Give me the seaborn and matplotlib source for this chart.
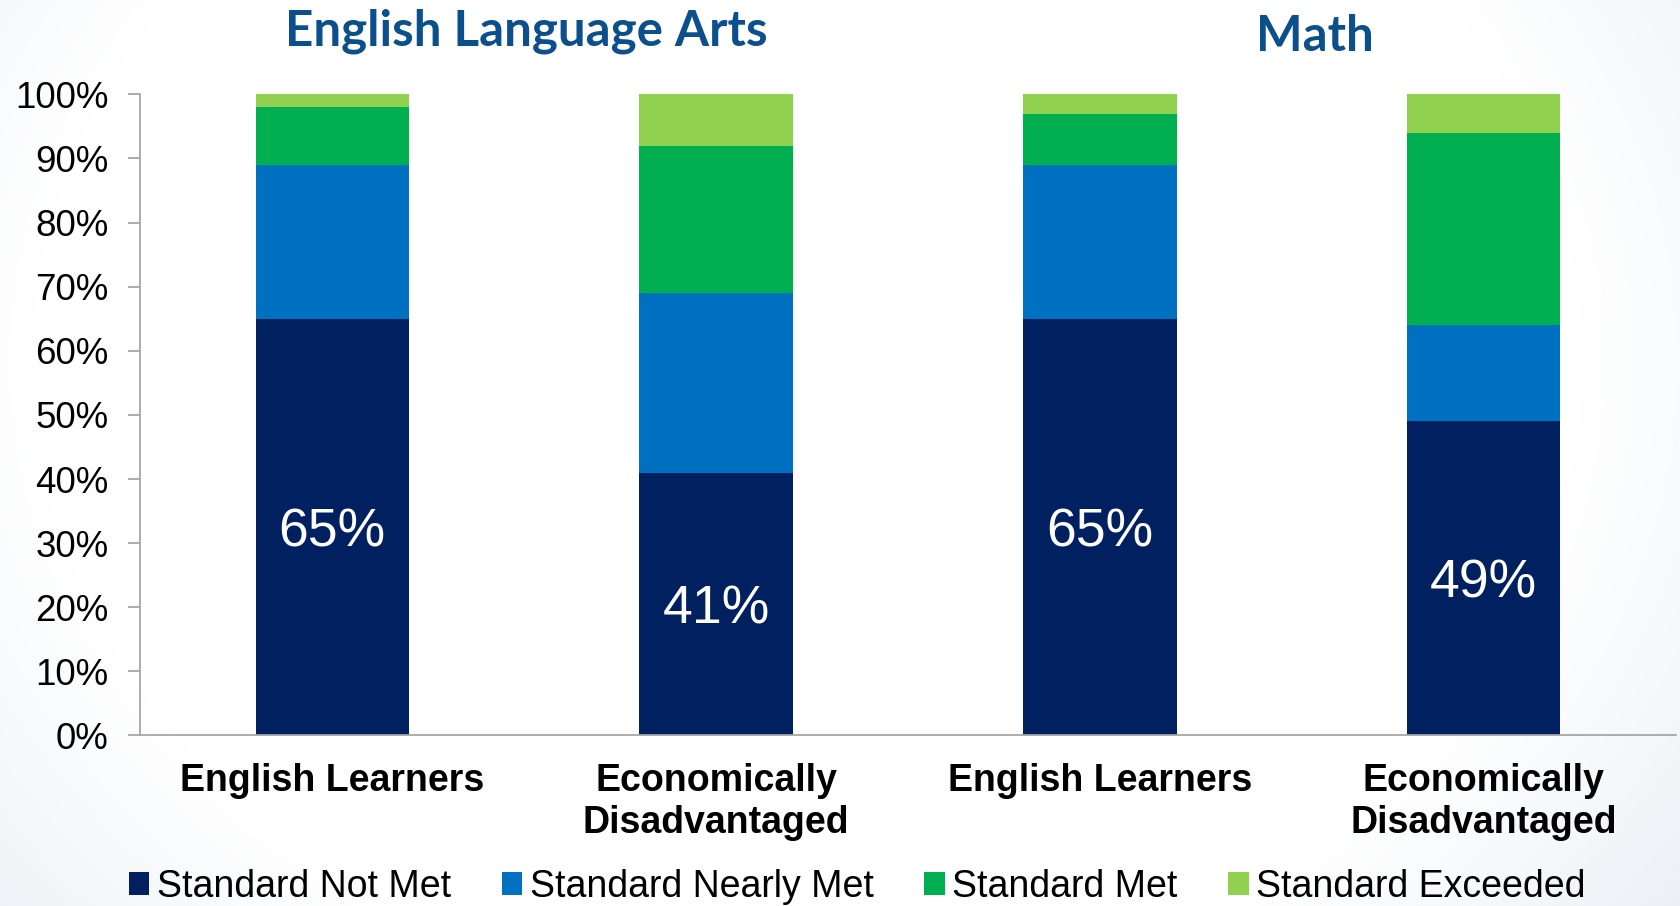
import numpy as np
import pandas as pd
import matplotlib
matplotlib.use("Agg")
import matplotlib.pyplot as plt
from matplotlib.patches import Patch
import seaborn as sns

# ---- data ----
groups = ["ELA-EL", "ELA-ED", "Math-EL", "Math-ED"]
group_labels = ["English Learners", "Economically\nDisadvantaged",
                "English Learners", "Economically\nDisadvantaged"]
subjects = ["English Language Arts", "Math"]
levels = ["Standard Not Met", "Standard Nearly Met", "Standard Met", "Standard Exceeded"]
not_met = [65, 41, 65, 49]
nearly_met = [24, 28, 24, 15]
met = [9, 23, 8, 30]
exceeded = [2, 8, 3, 6]
colors = ["#002060", "#0070C0", "#00B050", "#92D050"]

sns.set_theme(style="white")
plt.rcParams["font.family"] = ["Liberation Sans", "DejaVu Sans"]

W, H, DPI = 1681, 906, 100
fig = plt.figure(figsize=(W / DPI, H / DPI), dpi=DPI)
fig.patch.set_facecolor("white")

# subtle slide background gradient (background axes)
yy, xx = np.mgrid[0:H, 0:W]
xn = xx / W
yn = yy / H
d = ((xn - 0.48) / 0.62) ** 2 + ((yn - 0.40) / 0.95) ** 2
t = np.clip((d - 0.55) / 0.6, 0, 1) * 0.9
base = np.array([1.0, 1.0, 1.0])
edge = np.array([0.91, 0.93, 0.955])
img = base[None, None, :] * (1 - t[..., None]) + edge[None, None, :] * t[..., None]
bg = fig.add_axes([0, 0, 1, 1], zorder=-5)
bg.imshow(img, aspect="auto", extent=(0, 1, 0, 1), origin="upper")
bg.set_axis_off()

ax = fig.add_axes([0.0835, 0.1882, 0.9133, 0.7077], zorder=2)
ax.set_facecolor("none")

df = pd.DataFrame({
    "group": groups,
    "not_met": not_met,
    "nearly_met": nearly_met,
    "met": met,
    "exceeded": exceeded,
})
df["c1"] = df["not_met"]
df["c2"] = df["c1"] + df["nearly_met"]
df["c3"] = df["c2"] + df["met"]
df["c4"] = df["c3"] + df["exceeded"]

for col, color in zip(["c4", "c3", "c2", "c1"], colors[::-1]):
    sns.barplot(data=df, x="group", y=col, order=groups, color=color,
                width=0.4, saturation=1, linewidth=0, ax=ax, errorbar=None)

# label the "Not Met" segment (last container drawn)
cont = ax.containers[-1]
anns = ax.bar_label(cont, labels=[f"{v}%" for v in not_met], label_type="center",
                    color="white", fontsize=38.5)
for a in anns:
    a.xyann = (0, -3.9)

ax.set_ylim(0, 100)
ax.set_xlim(-0.5, 3.5)
ax.set_yticks(np.arange(0, 101, 10))
ax.set_yticklabels([f"{v}%" for v in range(0, 101, 10)], fontsize=26.5, color="black")
ax.set_xticks(range(4))
ax.set_xticklabels(group_labels, fontsize=27, fontweight="bold", color="black",
                   linespacing=1.24)
ax.set_xticks(np.arange(-0.5, 3.6, 1), minor=True)
ax.tick_params(axis="x", which="major", length=0, pad=19.5)
ax.tick_params(axis="x", which="minor", length=11, width=1.3, color="#A6A6A6", direction="out")
ax.tick_params(axis="y", which="major", length=9, width=1.3, color="#A6A6A6",
               direction="out", pad=14, left=True)
ax.set_xlabel("")
ax.set_ylabel("")
for s in ["top", "right"]:
    ax.spines[s].set_visible(False)
for s in ["left", "bottom"]:
    ax.spines[s].set_color("#A6A6A6")
    ax.spines[s].set_linewidth(1.3)

# subject titles
title_color = "#0B4F8C"
fig.text(0.313, 0.950, subjects[0], ha="center", va="baseline", fontsize=35.5,
         fontweight="bold", color=title_color, family=["Lato", "DejaVu Sans"])
fig.text(0.782, 0.944, subjects[1], ha="center", va="baseline", fontsize=35.5,
         fontweight="bold", color=title_color, family=["Lato", "DejaVu Sans"])

handles = [Patch(facecolor=c, edgecolor="none", label=l) for c, l in zip(colors, levels)]
leg = fig.legend(handles=handles, loc="center", bbox_to_anchor=(0.51, 0.0214), ncol=4,
                 frameon=False, fontsize=27, handlelength=0.55, handleheight=0.55,
                 handletextpad=0.2, columnspacing=1.35, borderpad=0, borderaxespad=0)
for txt in leg.get_texts():
    txt.set_color("black")

fig.savefig("out.png", dpi=DPI)
